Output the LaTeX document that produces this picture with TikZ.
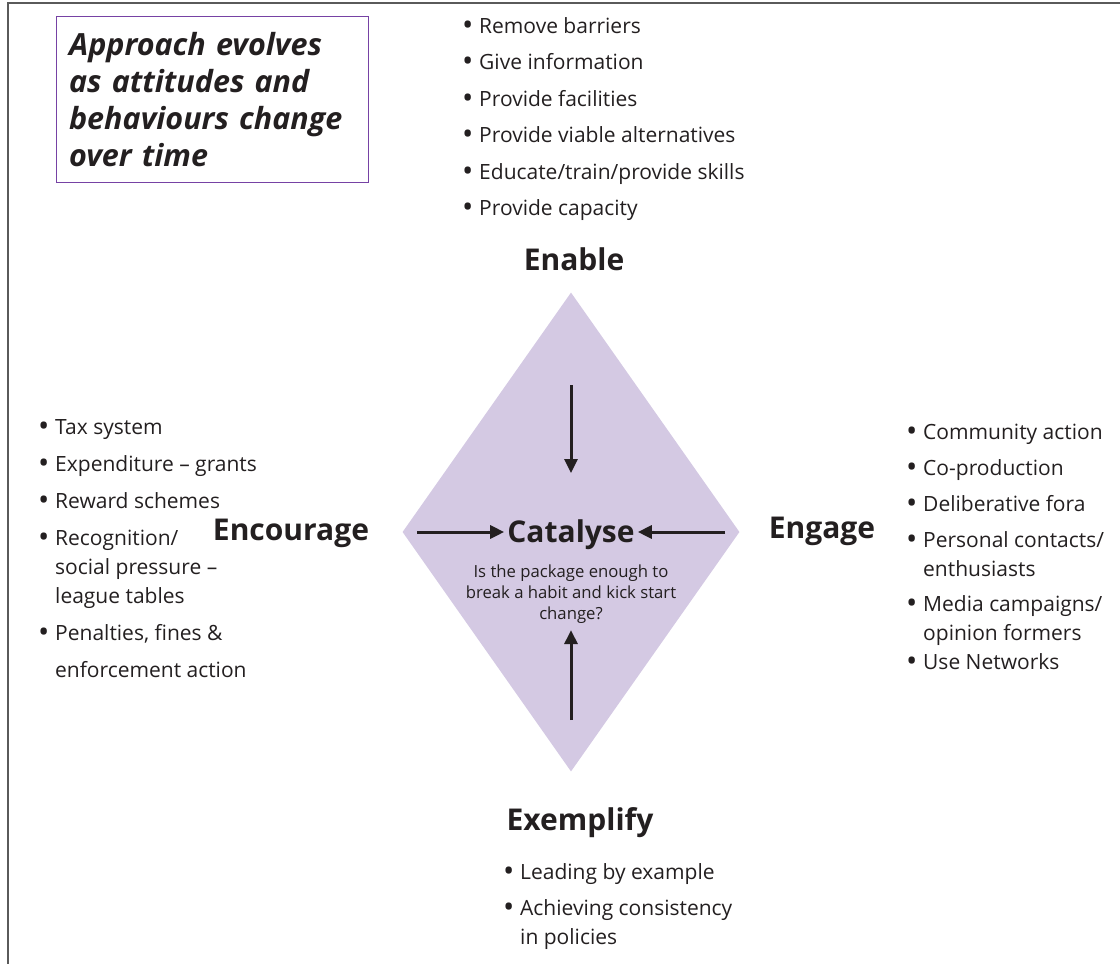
\documentclass[tikz,border=0pt]{standalone}
\usepackage{fontspec}
\setmainfont{Open Sans}
\usepackage{xcolor}
\usepackage{tikz}
\usetikzlibrary{calc}
\usetikzlibrary{shapes.geometric}
\usetikzlibrary{arrows.meta}
\definecolor{fig-lilac}{RGB}{212, 201, 227}
\definecolor{fig-purple}{RGB}{118, 66, 164}
\definecolor{fig-ink}{RGB}{35, 31, 32}
\definecolor{fig-frame}{RGB}{90, 90, 90}

\newcommand{\listbullet}{\makebox[17pt][l]{\raisebox{-2.2pt}{\fontsize{30}{0}\selectfont\textbullet}}}
\newcommand{\listgap}{\hspace*{17pt}}

\begin{document}
\begin{tikzpicture}[x=1pt, y=-1pt,
    every node/.style={text=fig-ink, inner sep=0pt},
    heading/.style={anchor=base, font=\bfseries\fontsize{30}{32}\selectfont},
    points/.style={anchor=north west, align=left, font=\fontsize{21}{29}\selectfont},
    push/.style={fig-ink, line width=3pt, -{Triangle[length=14pt, width=13pt]}}]
  \useasboundingbox (0, 0) rectangle (1120, 964);
  \draw[fig-frame, line width=1.5pt] (8, 964) -- (8, 3) -- (1120, 3);

  % the diamond
  \node[diamond, fill=fig-lilac, minimum width=337pt, minimum height=479pt] (core) at (571, 532) {};

  \node[draw=fig-purple, line width=1.2pt, anchor=north west, minimum width=312pt, minimum height=166pt,
        text width=287pt, inner xsep=12.5pt, align=left,
        font=\bfseries\itshape\fontsize{30.5}{37}\selectfont] (motto) at (56, 16)
        {Approach evolves\\as attitudes and\\behaviours change\\over time};

  \node[heading] (catalyse) at (571, 542) {Catalyse};
  \node[anchor=north, align=center, font=\fontsize{16.7}{21}\selectfont] (question) at (571, 565)
        {Is the package enough to\\break a habit and kick start\\change?};

  \node[heading] (enable) at (574, 270) {Enable};
  \node[heading] (encourage) at (291, 540) {Encourage};
  \node[heading] (engage) at (822, 538) {Engage};
  \node[heading] (exemplify) at (580, 830) {Exemplify};

  \coordinate (top-tail) at (571, 385);
  \coordinate (top-tip) at (571, 473);
  \coordinate (left-tail) at (417, 532);
  \coordinate (right-tail) at (725, 532);
  \coordinate (bottom-tail) at (571, 720);
  \draw[push] (top-tail) -- (top-tip);
  \draw[push, shorten >=3pt] (left-tail) -- (left-tail -| catalyse.west);
  \draw[push, shorten >=3pt] (right-tail) -- (right-tail -| catalyse.east);
  \draw[push, shorten >=6pt] (bottom-tail) -- (bottom-tail |- question.south);

  \node[points] (enable-list) at (462, 17)
        {\listbullet Remove barriers\\[7.5pt]
         \listbullet Give information\\[7.5pt]
         \listbullet Provide facilities\\[7.5pt]
         \listbullet Provide viable alternatives\\[7.5pt]
         \listbullet Educate/train/provide skills\\[7.5pt]
         \listbullet Provide capacity};
  \node[points] (encourage-list) at (38, 419)
        {\listbullet Tax system\\[8pt]
         \listbullet Expenditure – grants\\[8pt]
         \listbullet Reward schemes\\[8pt]
         \listbullet Recognition/\\
         \listgap social pressure –\\
         \listgap league tables\\[8pt]
         \listbullet Penalties, fines \&\\[8pt]
         \listgap enforcement action};
  \node[points] (engage-list) at (906, 424)
        {\listbullet Community action\\[7pt]
         \listbullet Co-production\\[7pt]
         \listbullet Deliberative fora\\[7pt]
         \listbullet Personal contacts/\\
         \listgap enthusiasts\\[6pt]
         \listbullet Media campaigns/\\
         \listgap opinion formers\\
         \listbullet Use Networks};
  \node[points] (exemplify-list) at (503, 863)
        {\listbullet Leading by example\\[7pt]
         \listbullet Achieving consistency\\
         \listgap in policies};
\end{tikzpicture}
\end{document}
